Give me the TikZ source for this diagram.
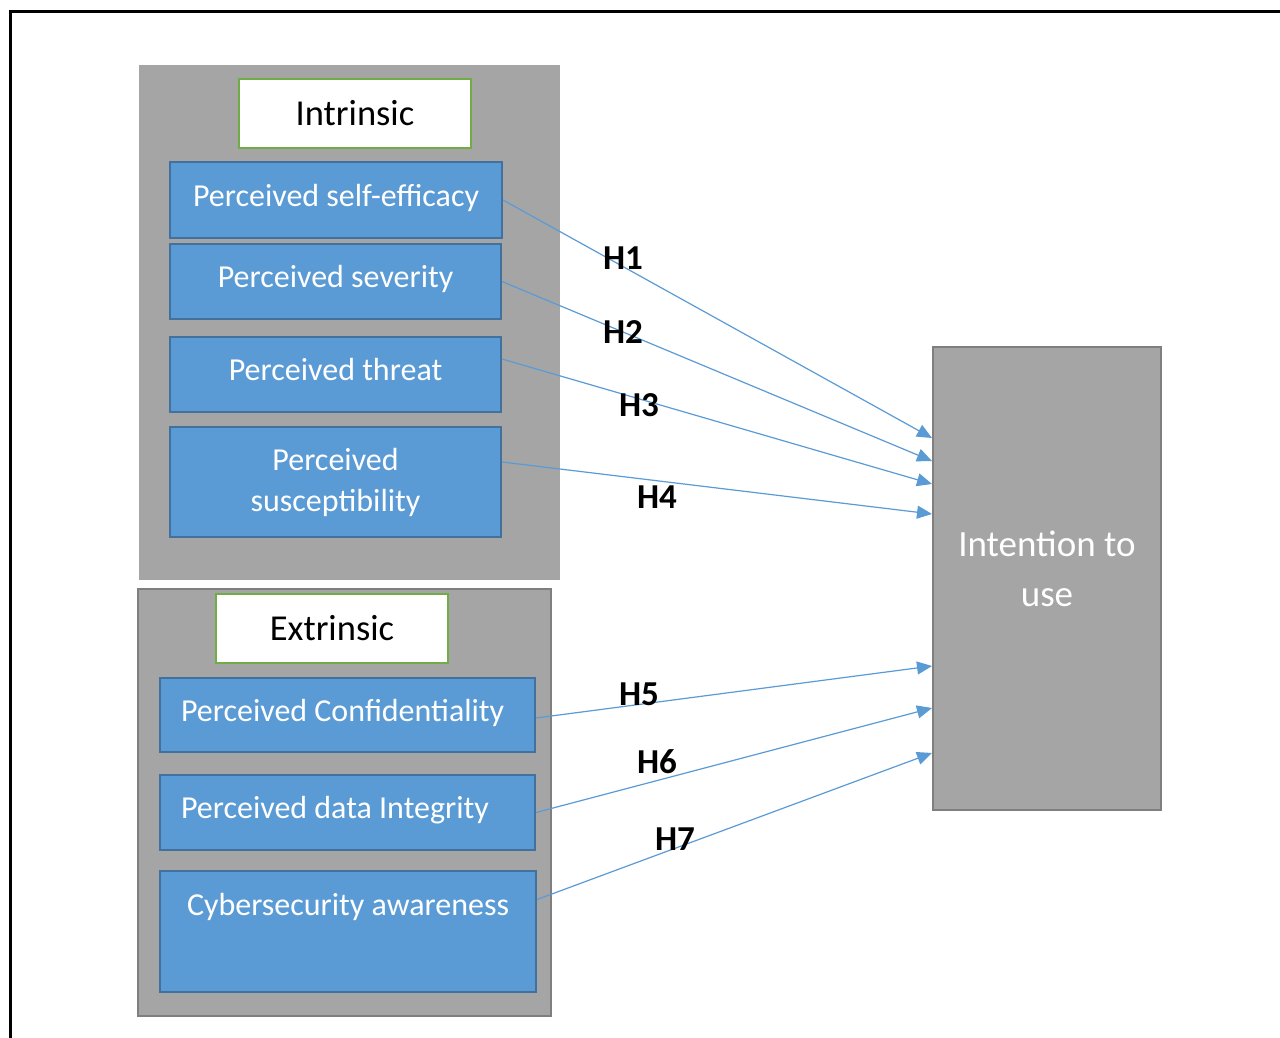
\documentclass[tikz,border=0pt]{standalone}
\usepackage{fontspec}
\setmainfont{Carlito}
\usetikzlibrary{arrows.meta,calc,positioning}
\definecolor{boxgray}{RGB}{165,165,165}
\definecolor{edgegray}{RGB}{127,127,127}
\definecolor{factorblue}{RGB}{91,155,213}
\definecolor{factoredge}{RGB}{65,113,156}
\definecolor{titlegreen}{RGB}{112,173,71}
\tikzset{
  groupbg/.style={draw=edgegray,line width=2pt,fill=boxgray,inner sep=0pt},
  grouptitle/.style={draw=titlegreen,line width=2pt,fill=white,inner sep=0pt,
    minimum width=232pt,minimum height=69pt,font=\fontsize{36.5}{43}\selectfont},
  factor/.style={draw=factoredge,line width=2pt,fill=factorblue,text=white,
    inner sep=0pt,align=center,font=\fontsize{32}{41}\selectfont},
  oneline/.style={text height=22pt,text depth=10pt},
  hyparrow/.style={draw=factorblue,line width=1.2pt,-{Triangle[length=15pt,width=13pt]}},
  hyplabel/.style={font=\bfseries\fontsize{35}{42}\selectfont,inner sep=0pt}
}

\begin{document}
\begin{tikzpicture}[x=1pt,y=-1pt]
  \useasboundingbox (0,0) rectangle (1280,1038);
  \fill[white] (0,0) rectangle (1280,1038);
  \draw[line width=3pt] (10,1038) -- (10,12) -- (1280,12);
  % intrinsic group
  \node[groupbg,draw=boxgray,minimum width=419pt,minimum height=513pt] (intrinsicbg) at (349.5,322.5) {};
  \node[grouptitle] (intrinsic) at (355,113.5) {Intrinsic};
  \node[factor,oneline,minimum width=332pt,minimum height=76pt] (b1) at (336,200) {Perceived self-efficacy};
  \node[factor,oneline,minimum width=331pt,minimum height=75pt] (b2) at (335.5,281.5) {Perceived severity};
  \node[factor,oneline,minimum width=331pt,minimum height=75pt] (b3) at (335.5,374.5) {Perceived threat};
  \node[factor,minimum width=331pt,minimum height=110pt] (b4) at (335.5,482) {Perceived\\susceptibility};
  % extrinsic group
  \node[groupbg,minimum width=413pt,minimum height=427pt] (extrinsicbg) at (344.5,802.5) {};
  \node[grouptitle] (extrinsic) at (332,628.5) {Extrinsic};
  \node[factor,oneline,align=flush left,inner xsep=21pt,text width=333pt,minimum height=74pt] (b5) at (347.5,715) {Perceived Confidentiality};
  \node[factor,oneline,align=flush left,inner xsep=21pt,text width=333pt,minimum height=75pt] (b6) at (347.5,812.5) {Perceived data Integrity};
  \node[factor,minimum width=376pt,minimum height=121pt] (b7) at (348,931.5) {};
  \node[factor,draw=none,fill=none,anchor=north] (b7text) at ([yshift=-22pt]b7.north) {Cybersecurity awareness};
  % outcome
  \node[groupbg,minimum width=228pt,minimum height=463pt] (intent) at (1047,578.5) {};
  \node[text=white,align=center,inner sep=0pt,font=\fontsize{37}{50}\selectfont] (intenttext) at ([yshift=10pt]intent.center) {Intention to\\use};
  % hypotheses
  \foreach \src/\sy/\dy/\hyp/\lx/\ly in {b1/0/140.5/H1/623/258, b2/0/117.5/H2/623/332,
      b3/15.5/94.5/H3/639/405, b4/20/64.5/H4/657/497, b5/-3/-87.5/H5/639/694,
      b6/0/-129.5/H6/657/762, b7/32/-174.5/H7/675/839}{
    \draw[hyparrow] ([yshift=\sy pt]\src.east) -- ([yshift=\dy pt]intent.west);
    \node[hyplabel] (lab\hyp) at (\lx,\ly) {\hyp};
  }
\end{tikzpicture}
\end{document}
